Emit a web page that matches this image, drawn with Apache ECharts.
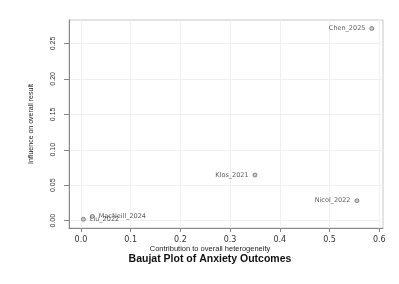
<!DOCTYPE html>
<html><head><meta charset="utf-8">
<script src="https://cdn.jsdelivr.net/npm/echarts@6/dist/echarts.min.js"></script>
<style>html,body{margin:0;padding:0;background:#fff}#c{width:399px;height:284px}</style>
</head><body><div id="c"></div>
<script>
const studies = ['Chen_2025','Klos_2021','Nicol_2022','MacNeill_2024','Liu_2022'];
const contribution = [0.585, 0.350, 0.555, 0.023, 0.005];
const influence = [0.271, 0.0644, 0.0282, 0.006, 0.002];
const labelSide = ['left','left','left','right','right'];
const xTicks = [0.0, 0.1, 0.2, 0.3, 0.4, 0.5, 0.6];
const yTicks = [0.00, 0.05, 0.10, 0.15, 0.20, 0.25];

const F = 'Liberation Sans, Arial, sans-serif';
const FD = 'DejaVu Sans, sans-serif';
const chart = echarts.init(document.getElementById('c'), null, {renderer:'canvas'});
const data = studies.map((s,i)=>({
  name: s, value: [contribution[i], influence[i]],
  label: {position: labelSide[i]}
}));
chart.setOption({
  animation: false,
  graphic: [
    {type:'text', x:210, y:249, style:{text:'Contribution to overall heterogeneity',
      font:'normal 7.5px ' + F, fill:'#222', textAlign:'center', textVerticalAlign:'middle'}},
    {type:'text', x:210, y:259.5, style:{text:'Baujat Plot of Anxiety Outcomes',
      font:'bold 10.5px ' + F, fill:'#111', textAlign:'center', textVerticalAlign:'middle'}}
  ],
  grid: {left:69, top:20, right:16, bottom:56, show:true, borderColor:'#c8c8c8', borderWidth:1},
  xAxis: {
    type:'value', min:-0.024, max:0.6075,
    axisLine:{show:true, onZero:false, lineStyle:{color:'#888'}},
    axisTick:{show:true, length:4, customValues:xTicks, lineStyle:{color:'#888'}},
    axisLabel:{customValues:xTicks, fontFamily:FD, fontSize:8, color:'#333', margin:8,
      formatter:v=>v.toFixed(1)},
    splitLine:{show:true, lineStyle:{color:'#f0f0f0', width:1}}
  },
  yAxis: {
    type:'value', min:-0.0103, max:0.283,
    name:'Influence on overall result', nameLocation:'middle', nameGap:34, nameRotate:90,
    nameTextStyle:{fontFamily:F, fontSize:7, color:'#222'},
    axisLine:{show:true, onZero:false, lineStyle:{color:'#888'}},
    axisTick:{show:true, length:5, customValues:yTicks, lineStyle:{color:'#888'}},
    axisLabel:{customValues:yTicks, fontFamily:F, fontSize:7, color:'#333', margin:12, rotate:90,
      formatter:v=>v.toFixed(2)},
    splitLine:{show:true, lineStyle:{color:'#f0f0f0', width:1}}
  },
  series: [{
    type:'scatter', data:data, symbol:'circle', symbolSize:4,
    itemStyle:{color:'#bbb', borderColor:'#555', borderWidth:0.8},
    label:{show:true, formatter:p=>p.name, fontFamily:FD, fontSize:6.5, color:'#333', distance:4}
  }]
});
</script></body></html>
